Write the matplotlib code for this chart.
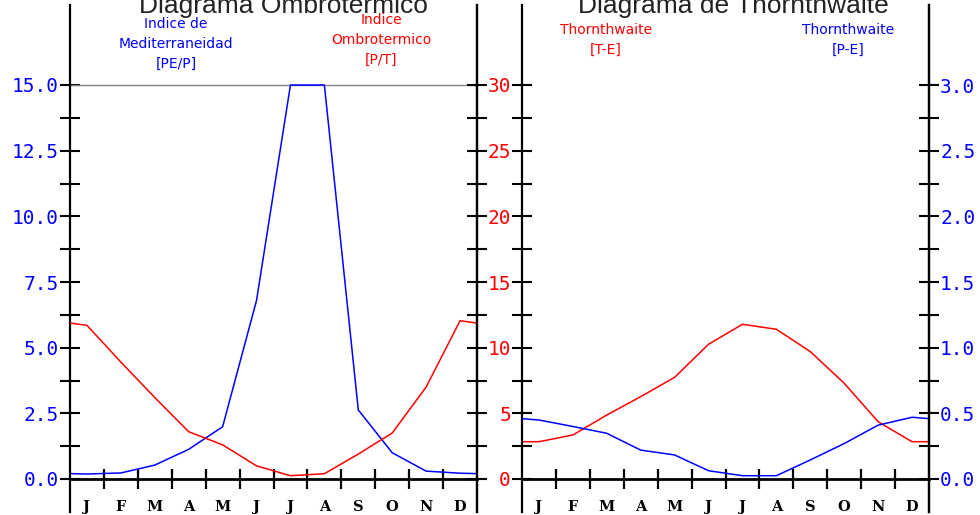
import numpy as np
import matplotlib
matplotlib.use("Agg")
from matplotlib import pyplot as plt
from matplotlib.ticker import FormatStrFormatter, FixedLocator

### data ###
months = ['J', 'F', 'M', 'A', 'M', 'J', 'J', 'A', 'S', 'O', 'N', 'D']
# Diagrama Ombrotermico
ind_mediterraneidad = [0.19, 0.23, 0.53, 1.13, 1.99, 6.8, 15.0, 15.0, 2.63, 1.0, 0.3, 0.22]   # PE/P (clipped at 15)
ind_ombrotermico = [11.7, 8.9, 6.2, 3.6, 2.6, 1.0, 0.25, 0.4, 1.9, 3.5, 7.0, 12.05]          # P/T
# Diagrama de Thornthwaite
thorn_te = [2.84, 3.35, 4.87, 6.27, 7.74, 10.26, 11.78, 11.4, 9.7, 7.29, 4.36, 2.84]
thorn_pe = [0.449, 0.40, 0.348, 0.22, 0.183, 0.063, 0.025, 0.025, 0.145, 0.27, 0.41, 0.47]

W, H = 980, 515
BLUE = '#0000ff'
RED = '#ff0000'
NUMFONT = 'DejaVu Sans Mono'

# pixel geometry of the reference
Y0_PX, YTOP_PX = 479, 85          # value 0 and top value line
AX_TOP_PX, AX_BOT_PX = 5, 512


def ylims(top_val):
    per_px = top_val / (Y0_PX - YTOP_PX)
    return -(AX_BOT_PX - Y0_PX) * per_px, (Y0_PX - AX_TOP_PX) * per_px


def wrap(vals):
    # dec of previous year and jan of next year so the line runs edge to edge
    x = np.arange(-0.5, 12.6, 1.0)
    y = [vals[-1]] + list(vals) + [vals[0]]
    return x, y


def make_panel(fig, left_px, right_px):
    ax = fig.add_axes([left_px / W, 1 - AX_BOT_PX / H, (right_px - left_px) / W,
                       (AX_BOT_PX - AX_TOP_PX) / H])
    ax.set_facecolor('none')
    ax.set_xlim(0, 12)
    ax.spines['top'].set_visible(False)
    ax.spines['bottom'].set_position(('data', 0))
    ax.spines['bottom'].set_linewidth(2)
    for s in ['left', 'right']:
        ax.spines[s].set_linewidth(1.6)
    ax.xaxis.set_major_locator(FixedLocator(np.arange(1, 12)))
    ax.xaxis.set_minor_locator(FixedLocator(np.arange(0.5, 12, 1.0)))
    ax.xaxis.set_major_formatter(plt.NullFormatter())
    ax.set_xticklabels(months, minor=True)
    ax.tick_params(axis='x', which='major', direction='inout', length=15, width=1.6)
    ax.tick_params(axis='x', which='minor', length=0, pad=15)
    for lab in ax.get_xticklabels(minor=True):
        lab.set_fontfamily('DejaVu Serif')
        lab.set_fontweight('bold')
        lab.set_fontsize(10.5)
    return ax


def style_y(ax, major, minor, top, color, fmt, side, labels=True):
    ax.yaxis.set_major_locator(FixedLocator(np.arange(0, top + 1e-9, major)))
    ax.yaxis.set_minor_locator(FixedLocator(np.arange(0, top + 1e-9, minor)))
    ax.yaxis.set_major_formatter(FormatStrFormatter(fmt))
    ax.yaxis.set_ticks_position(side)
    ax.tick_params(axis='y', which='both', direction='inout', length=14, width=1.5,
                   labelsize=14, labelcolor=color, pad=1,
                   labelleft=(labels and side == 'left'), labelright=(labels and side == 'right'))
    for lab in ax.get_yticklabels():
        lab.set_fontfamily(NUMFONT)


fig = plt.figure(figsize=(W / 100, H / 100), dpi=100)

# ---- Diagrama Ombrotermico ----
ax1 = make_panel(fig, 70, 477)
ax1.set_ylim(*ylims(15))
ax1.axhline(15, color='#808080', lw=1)
x, y = wrap(ind_mediterraneidad)
ax1.plot(x, y, color=BLUE, lw=1.1)
style_y(ax1, 2.5, 1.25, 15, BLUE, '%.1f', 'left')

ax1r = ax1.twinx()
ax1r.set_ylim(*ylims(30))
for s in ['top', 'bottom', 'left']:
    ax1r.spines[s].set_visible(False)
ax1r.spines['right'].set_linewidth(1.6)
x, y = wrap(ind_ombrotermico)
ax1r.plot(x, y, color=RED, lw=1.1)
style_y(ax1r, 5, 2.5, 30, RED, '%d', 'right', labels=False)

# ---- Diagrama de Thornthwaite ----
ax2 = make_panel(fig, 522, 929)
ax2.set_ylim(*ylims(30))
x, y = wrap(thorn_te)
ax2.plot(x, y, color=RED, lw=1.1)
style_y(ax2, 5, 2.5, 30, RED, '%d', 'left')

ax2r = ax2.twinx()
ax2r.set_ylim(*ylims(3))
for s in ['top', 'bottom', 'left']:
    ax2r.spines[s].set_visible(False)
ax2r.spines['right'].set_linewidth(1.6)
x, y = wrap(thorn_pe)
ax2r.plot(x, y, color=BLUE, lw=1.1)
style_y(ax2r, 0.5, 0.25, 3, BLUE, '%.1f', 'right')

# titles (sitting at the top edge, as in the reference)
fig.text(283 / W, 1 - 13 / H, 'Diagrama Ombrotermico', ha='center', va='baseline',
         fontsize=19, color='#222222', family='Liberation Sans')
fig.text(733 / W, 1 - 13 / H, 'Diagrama de Thornthwaite', ha='center', va='baseline',
         fontsize=19, color='#222222', family='Liberation Sans')

# series captions
cap = dict(ha='center', va='center', fontsize=10, family='DejaVu Sans', linespacing=1.55)
fig.text(176 / W, 1 - 44 / H, 'Indice de\nMediterraneidad\n[PE/P]', color=BLUE, **cap)
fig.text(381 / W, 1 - 40 / H, 'Indice\nOmbrotermico\n[P/T]', color=RED, **cap)
fig.text(606 / W, 1 - 40 / H, 'Thornthwaite\n[T-E]', color=RED, **cap)
fig.text(848 / W, 1 - 40 / H, 'Thornthwaite\n[P-E]', color=BLUE, **cap)

fig.savefig('out.png', dpi=100)
